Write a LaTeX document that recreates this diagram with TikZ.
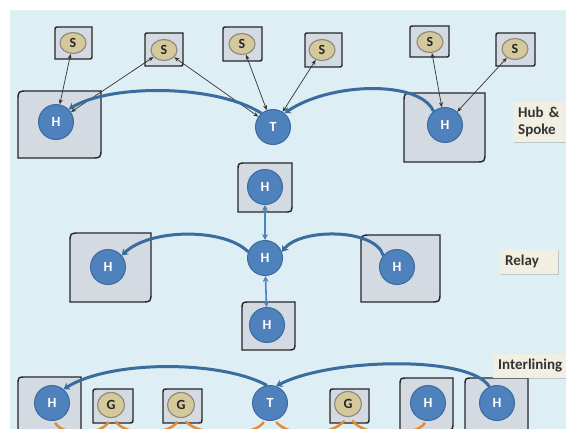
\documentclass[tikz,border=0pt]{standalone}
\usepackage{fontspec}
\setmainfont{Carlito}
\usetikzlibrary{shapes.geometric,arrows.meta,shadows}
\definecolor{bgblue}{HTML}{DDEEF5}
\definecolor{boxgray}{HTML}{D4DAE1}
\definecolor{hubblue}{HTML}{4F81BD}
\definecolor{hubedge}{HTML}{3A6A9E}
\definecolor{curveblue}{HTML}{3A6C9E}
\definecolor{sattan}{HTML}{D5C99C}
\definecolor{satedge}{HTML}{8F8C7E}
\definecolor{laneorange}{HTML}{E8892E}
\definecolor{tagbg}{HTML}{F1EEE2}

% square with rounded top-left and bottom-right corners
\newcommand{\cornerbox}[5][7]{%
  \filldraw[boxline] (#2,#5) -- (#2,#3+#1) .. controls (#2,#3) .. (#2+#1,#3)
    -- (#4,#3) -- (#4,#5-#1) .. controls (#4,#5) .. (#4-#1,#5) -- cycle;}

\begin{document}
\begin{tikzpicture}[
  x=1pt, y=-1pt,
  boxline/.style={draw=black!85, fill=boxgray, line width=1.4pt},
  hub/.style={circle, fill=hubblue, draw=hubedge, line width=1pt,
              minimum size=35pt, inner sep=0pt, text=white,
              font=\fontsize{14}{14}\selectfont\bfseries},
  sat/.style={ellipse, fill=sattan, draw=satedge, line width=1.2pt,
              minimum width=26pt, minimum height=21pt, inner sep=0pt,
              text=black!85, font=\fontsize{14}{14}\selectfont\bfseries},
  spoke/.style={{Stealth[length=5pt,width=4pt]}-{Stealth[length=5pt,width=4pt]},
                line width=0.7pt, draw=black!80},
  link/.style={-{Stealth[length=6pt,width=8pt]}, line width=3pt, draw=curveblue},
  relay/.style={{Stealth[length=6pt,width=6pt]}-{Stealth[length=6pt,width=6pt]},
                line width=1.6pt, draw=hubblue},
  lane/.style={line width=2.4pt, draw=laneorange},
  tag/.style={fill=tagbg, drop shadow={opacity=0.35, shadow xshift=1pt, shadow yshift=-1pt},
              font=\fontsize{15}{17}\selectfont\bfseries, text=black!80,
              align=left, inner sep=5pt, anchor=west}
]
  \clip (0,0) rectangle (566,429);
  \fill[white] (0,0) rectangle (566,429);
  \fill[bgblue] (10,10) rectangle (566,429);

  % hub & spoke
  \cornerbox[4]{55}{27}{92}{59}
  \cornerbox[4]{145}{33}{183}{66}
  \cornerbox[4]{223}{27}{262}{61}
  \cornerbox[4]{305}{33}{342}{67}
  \cornerbox[4]{410}{26}{449}{57}
  \cornerbox[4]{496}{33}{535}{66}
  \cornerbox[10]{18}{91}{101}{158}
  \cornerbox[10]{404}{93}{485}{162}

  \node[sat] (s1) at (73,43)  {S};
  \node[sat] (s2) at (164,50) {S};
  \node[sat] (s3) at (242,44) {S};
  \node[sat] (s4) at (322,50) {S};
  \node[sat] (s5) at (430,42) {S};
  \node[sat] (s6) at (515,49) {S};
  \node[hub] (hl) at (56,122)  {H};
  \node[hub] (ht) at (273,127) {T};
  \node[hub] (hr) at (445,125) {H};

  \draw[spoke] (s1) -- (hl);
  \draw[spoke] (s2) -- (hl);
  \draw[spoke] (s2) -- (ht);
  \draw[spoke] (s3) -- (ht);
  \draw[spoke] (s4) -- (ht);
  \draw[spoke] (s5) -- (hr);
  \draw[spoke] (s6) -- (hr);

  \draw[link] (ht.130) .. controls (215,84) and (110,84) .. (hl.45);
  \draw[link] (hr.130) .. controls (420,80) and (330,82) .. (ht.50);

  \node[tag, text width=50pt, minimum height=40pt] (hubtag) at (513,122) {Hub \&\\Spoke};

  % relay
  \cornerbox[8]{238}{163}{292}{212}
  \cornerbox[8]{242}{302}{295}{350}
  \cornerbox[10]{70}{233}{151}{302}
  \cornerbox[10]{361}{235}{440}{302}

  \node[hub] (rt) at (265,187) {H};
  \node[hub] (rc) at (265,258) {H};
  \node[hub] (rb) at (267,325) {H};
  \node[hub] (rl) at (108,267) {H};
  \node[hub] (rr) at (397,267) {H};

  \draw[relay] (rt) -- (rc);
  \draw[relay] (rc) -- (rb);
  \draw[link] (rc.160) .. controls (225,228) and (150,228) .. (rl.40);
  \draw[link] (rr.140) .. controls (375,228) and (300,228) .. (rc.20);

  \node[tag, text width=48pt, minimum height=25pt] (relaytag) at (500,261) {Relay};

  % interlining
  \cornerbox[8]{18}{377}{81}{445}
  \cornerbox[5]{93}{389}{133}{423}
  \cornerbox[5]{163}{389}{202}{423}
  \cornerbox[5]{330}{389}{369}{423}
  \cornerbox[8]{400}{378}{453}{430}
  \cornerbox[8]{465}{378}{528}{445}

  \node[hub] (ih1) at (52,403)  {H};
  \node[sat, minimum width=27pt, minimum height=25pt] (g1) at (111,405) {G};
  \node[sat, minimum width=27pt, minimum height=25pt] (g2) at (181,405) {G};
  \node[hub] (it) at (270,403)  {T};
  \node[sat, minimum width=27pt, minimum height=25pt] (g3) at (348,404) {G};
  \node[hub] (ih2) at (428,403) {H};
  \node[hub] (ih3) at (497,403) {H};

  \draw[link] (it.100) .. controls (220,360) and (110,360) .. (ih1.50);
  \draw[link] (ih3.115) .. controls (470,355) and (330,358) .. (it.70);

  \draw[lane] ([yshift=-2pt]ih1.-80) .. controls (62,436) and (100,436) .. ([yshift=-4pt]g1.-100);
  \draw[lane] ([yshift=-4pt]g1.-70) .. controls (125,436) and (168,436) .. ([yshift=-4pt]g2.-105);
  \draw[lane] ([yshift=-4pt]g2.-70) .. controls (200,437) and (255,437) .. ([yshift=-2pt]it.-110);
  \draw[lane] ([yshift=-2pt]it.-70) .. controls (288,437) and (330,437) .. ([yshift=-4pt]g3.-105);
  \draw[lane] ([yshift=-4pt]g3.-70) .. controls (362,437) and (418,437) .. ([yshift=-2pt]ih2.-100);

  \node[tag, text width=70pt, minimum height=22pt] (intertag) at (493,366) {Interlining};
\end{tikzpicture}
\end{document}
